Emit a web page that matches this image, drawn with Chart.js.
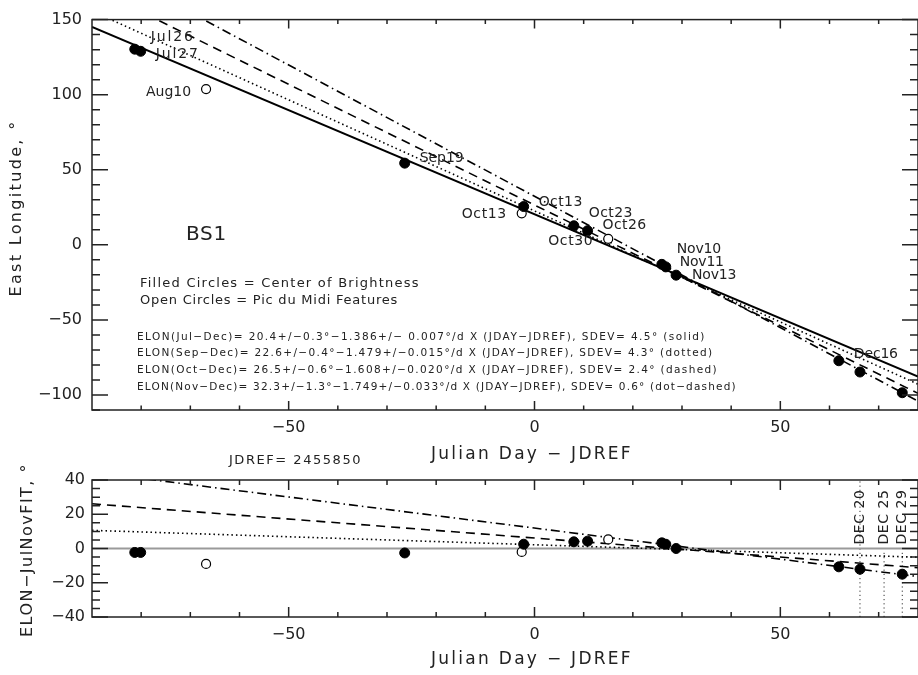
<!DOCTYPE html>
<html>
<head>
<meta charset="utf-8">
<script src="https://cdn.jsdelivr.net/npm/chart.js@4.4.1/dist/chart.umd.min.js"></script>
<style>
  html, body { margin: 0; padding: 0; background: #fff; }
  body { width: 918px; height: 675px; position: relative; overflow: hidden; }
  .box { position: absolute; left: 0; width: 918px; }
  #topBox { top: 0; height: 470px; }
  #botBox { top: 440px; height: 235px; }
</style>
</head>
<body>
<div class="box" id="topBox"><canvas id="topChart"></canvas></div>
<div class="box" id="botBox"><canvas id="botChart"></canvas></div>
<script>
// values, days are JDAY - JDREF (JDREF = 2455850)
var filledDays  = [-81.3, -80.1, -26.4, -2.2, 8.0, 10.8, 25.9, 26.7, 28.8, 61.9, 66.2, 74.8];
var filledElon  = [130.3, 128.9, 54.4, 25.5, 12.7, 9.4, -13.0, -14.7, -20.2, -77.2, -84.7, -98.5];
var filledResid = [-2.3, -2.3, -2.6, 2.5, 3.9, 4.3, 3.3, 2.5, 0.0, -10.7, -12.1, -15.0];
var filledNames = ['Jul26', 'Jul27', 'Sep19', 'Oct13', 'Oct23', 'Oct26', 'Nov10', 'Nov11', 'Nov13', 'Dec16', '', ''];

var openDays  = [-66.8, -2.6, 15.0];
var openElon  = [103.7, 21.0, 4.0];
var openResid = [-9.0, -2.0, 5.3];
var openNames = ['Aug10', 'Oct13', 'Oct30'];

// fit lines: solid, dotted, dashed, dot-dashed, value at the two ends of the day axis
var fitDays      = [-90, 78];
var fitStartElon = [145.1, 155.7, 171.2, 189.7];
var fitEndElon   = [-87.7, -92.8, -98.9, -104.1];
var residStart   = [0, 10.6, 26.1, 44.6];
var residEnd     = [0, -5.1, -11.2, -16.4];

// december markers in the residual panel
var decNames = ['DEC 20', 'DEC 25', 'DEC 29'];
var decDays  = [66.2, 71.1, 74.8];
var decTop   = [40, -1, -1];

var fitText = [
  'ELON(Jul\u2212Dec)= 20.4+/\u22120.3\u00b0\u22121.386+/\u2212 0.007\u00b0/d X (JDAY\u2212JDREF), SDEV= 4.5\u00b0 (solid)',
  'ELON(Sep\u2212Dec)= 22.6+/\u22120.4\u00b0\u22121.479+/\u22120.015\u00b0/d X (JDAY\u2212JDREF), SDEV= 4.3\u00b0 (dotted)',
  'ELON(Oct\u2212Dec)= 26.5+/\u22120.6\u00b0\u22121.608+/\u22120.020\u00b0/d X (JDAY\u2212JDREF), SDEV= 2.4\u00b0 (dashed)',
  'ELON(Nov\u2212Dec)= 32.3+/\u22121.3\u00b0\u22121.749+/\u22120.033\u00b0/d X (JDAY\u2212JDREF), SDEV= 0.6\u00b0 (dot\u2212dashed)'
];

var xMajor = [-50, 0, 50];
var xMinor = [-80, -70, -60, -40, -30, -20, -10, 10, 20, 30, 40, 60, 70];
var topYMajor = [-100, -50, 0, 50, 100, 150];
var topYMinor = [-110, -90, -80, -70, -60, -40, -30, -20, -10, 10, 20, 30, 40, 60, 70, 80, 90, 110, 120, 130, 140];
var botYMajor = [-40, -20, 0, 20, 40];
var botYMinor = [-35, -30, -25, -15, -10, -5, 5, 10, 15, 25, 30, 35];

var FONT = "'DejaVu Sans', sans-serif";
var INK = '#222';
var dashes = [[], [1.5, 3], [9, 6], [9, 4, 1.5, 4]];

function pts(xs, ys) {
  return xs.map(function (x, i) { return { x: x, y: ys[i] }; });
}

function minus(s) { return String(s).replace('-', '\u2212'); }

// draws text stretched to the width it has in the figure
function spaced(ctx, text, x, y, size, width, align, angle) {
  ctx.save();
  ctx.font = size + 'px ' + FONT;
  ctx.letterSpacing = '0px';
  var w = ctx.measureText(text).width;
  var sp = (width - w) / text.length;
  sp = Math.max(-1, Math.min(5, sp));
  ctx.letterSpacing = sp.toFixed(2) + 'px';
  ctx.fillStyle = INK;
  ctx.textBaseline = 'middle';
  ctx.translate(x, y);
  if (angle) ctx.rotate(angle);
  var full = w + sp * text.length;
  var dx = align === 'center' ? -full / 2 : (align === 'right' ? -full : 0);
  ctx.textAlign = 'left';
  ctx.fillText(text, dx, 0);
  ctx.restore();
}

function frameTicks(chart, major, minor, xLen, yLen) {
  var ctx = chart.ctx, a = chart.chartArea, sx = chart.scales.x, sy = chart.scales.y;
  ctx.save();
  ctx.strokeStyle = INK;
  ctx.lineWidth = 1.5;
  ctx.beginPath();
  function seg(x1, y1, x2, y2) { ctx.moveTo(x1, y1); ctx.lineTo(x2, y2); }
  xMajor.forEach(function (v) { var p = sx.getPixelForValue(v); seg(p, a.bottom, p, a.bottom - xLen); seg(p, a.top, p, a.top + xLen); });
  xMinor.forEach(function (v) { var p = sx.getPixelForValue(v); seg(p, a.bottom, p, a.bottom - xLen / 2); seg(p, a.top, p, a.top + xLen / 2); });
  major.forEach(function (v) { var p = sy.getPixelForValue(v); seg(a.left, p, a.left + yLen, p); seg(a.right, p, a.right - yLen, p); });
  minor.forEach(function (v) { var p = sy.getPixelForValue(v); seg(a.left, p, a.left + yLen / 2, p); seg(a.right, p, a.right - yLen / 2, p); });
  ctx.stroke();
  ctx.strokeRect(a.left, a.top, a.right - a.left, a.bottom - a.top);
  ctx.restore();
}

function axisOptions(ymin, ymax, ystep, yWidth, xHeight, yPad, xPad) {
  return {
    x: {
      type: 'linear', min: -90, max: 78,
      grid: { display: false, drawTicks: false }, border: { display: false },
      afterBuildTicks: function (s) { s.ticks = s.ticks.filter(function (t) { return t.value % 50 === 0; }); },
      afterFit: function (s) { s.height = xHeight; },
      ticks: { stepSize: 50, includeBounds: false, padding: xPad, color: INK, font: { family: FONT, size: 16 }, callback: minus, maxRotation: 0 }
    },
    y: {
      type: 'linear', min: ymin, max: ymax,
      grid: { display: false, drawTicks: false }, border: { display: false },
      afterBuildTicks: function (s) { s.ticks = s.ticks.filter(function (t) { return t.value % ystep === 0; }); },
      afterFit: function (s) { s.width = yWidth; },
      ticks: { stepSize: ystep, includeBounds: false, padding: yPad, color: INK, font: { family: FONT, size: 16 }, callback: minus }
    }
  };
}

function lineSet(data, i, color, width) {
  return {
    data: data, showLine: true, pointRadius: 0, borderColor: color || '#000',
    borderWidth: width || (i === 0 ? 2 : 1.6), borderDash: dashes[i], fill: false
  };
}

// ---------- top panel ----------
var topSets = [
  { data: pts(filledDays, filledElon), pointRadius: 5, pointBackgroundColor: '#000', pointBorderColor: '#000', showLine: false },
  { data: pts(openDays, openElon), pointRadius: 4.5, pointBackgroundColor: '#fff', pointBorderColor: '#000', pointBorderWidth: 1.2, showLine: false }
];
for (var i = 0; i < 4; i++) {
  topSets.push(lineSet(pts(fitDays, [fitStartElon[i], fitEndElon[i]]), i));
}

// label offsets from their point, in pixels
var filledOffsets = [[16, -12], [15, 3], [15, -5], [15, -4], [15, -12], [15, -5], [15, -15], [14, -5], [16, 0], [15, -6]];
var openOffsets = [[-15, 3], [-15, 1], [-15, 3]];

var topText = {
  id: 'topText',
  afterDraw: function (chart) {
    var ctx = chart.ctx, sx = chart.scales.x, sy = chart.scales.y;
    frameTicks(chart, topYMajor, topYMinor, 9, 16);
    filledNames.forEach(function (n, i) {
      if (!n) return;
      var o = filledOffsets[i];
      spaced(ctx, n, sx.getPixelForValue(filledDays[i]) + o[0], sy.getPixelForValue(filledElon[i]) + o[1], 14, 44, 'left');
    });
    openNames.forEach(function (n, i) {
      var o = openOffsets[i];
      spaced(ctx, n, sx.getPixelForValue(openDays[i]) + o[0], sy.getPixelForValue(openElon[i]) + o[1], 14, 45, 'right');
    });
    spaced(ctx, 'BS1', 186, 235, 20, 41, 'left');
    spaced(ctx, 'Filled Circles = Center of Brightness', 140, 284, 13, 280, 'left');
    spaced(ctx, 'Open Circles = Pic du Midi Features', 140, 301, 13, 258, 'left');
    var widths = [569, 576, 581, 600];
    fitText.forEach(function (t, k) { spaced(ctx, t, 137, 337 + k * 16.7, 10.5, widths[k], 'left'); });
    spaced(ctx, 'East Longitude, \u00b0', 17, 208, 16, 177, 'center', -Math.PI / 2);
    spaced(ctx, 'Julian Day \u2212 JDREF', 532, 455, 17, 202, 'center');
  }
};

new Chart(document.getElementById('topChart'), {
  type: 'scatter',
  data: { datasets: topSets },
  options: {
    responsive: true, maintainAspectRatio: false, animation: false, events: [],
    layout: { autoPadding: false, padding: { top: 14, right: 0, left: 0, bottom: 0 } },
    plugins: { legend: { display: false }, tooltip: { enabled: false } },
    scales: axisOptions(-110, 150, 50, 92, 60, 10, 8)
  },
  plugins: [topText]
});

// ---------- residual panel ----------
var botSets = [
  { data: pts(filledDays, filledResid), pointRadius: 5, pointBackgroundColor: '#000', pointBorderColor: '#000', showLine: false },
  { data: pts(openDays, openResid), pointRadius: 4.5, pointBackgroundColor: '#fff', pointBorderColor: '#000', pointBorderWidth: 1.2, showLine: false }
];
for (var j = 1; j < 4; j++) {
  botSets.push(lineSet(pts(fitDays, [residStart[j], residEnd[j]]), j));
}
botSets.push(lineSet(pts(fitDays, [residStart[0], residEnd[0]]), 0, '#9a9a9a', 2));
decDays.forEach(function (d, k) {
  botSets.push({ data: pts([d, d], [-40, decTop[k]]), showLine: true, pointRadius: 0, borderColor: '#333', borderWidth: 1, borderDash: [1.2, 3] });
});

var botText = {
  id: 'botText',
  afterDraw: function (chart) {
    var ctx = chart.ctx, sx = chart.scales.x, sy = chart.scales.y;
    frameTicks(chart, botYMajor, botYMinor, 10, 16);
    decNames.forEach(function (n, k) {
      spaced(ctx, n, sx.getPixelForValue(decDays[k]), sy.getPixelForValue(0) - 4, 14, 55, 'left', -Math.PI / 2);
    });
    spaced(ctx, 'JDREF= 2455850', 229, 21, 13, 133, 'left');
    spaced(ctx, 'ELON\u2212JulNovFIT, \u00b0', 28, 110, 16, 174, 'center', -Math.PI / 2);
    spaced(ctx, 'Julian Day \u2212 JDREF', 532, 220, 17, 202, 'center');
  }
};

new Chart(document.getElementById('botChart'), {
  type: 'scatter',
  data: { datasets: botSets },
  options: {
    responsive: true, maintainAspectRatio: false, animation: false, events: [],
    layout: { autoPadding: false, padding: { top: 40, right: 0, left: 0, bottom: 0 } },
    plugins: { legend: { display: false }, tooltip: { enabled: false } },
    scales: axisOptions(-40, 40, 20, 92, 58, 7, 8)
  },
  plugins: [botText]
});
</script>
</body>
</html>
